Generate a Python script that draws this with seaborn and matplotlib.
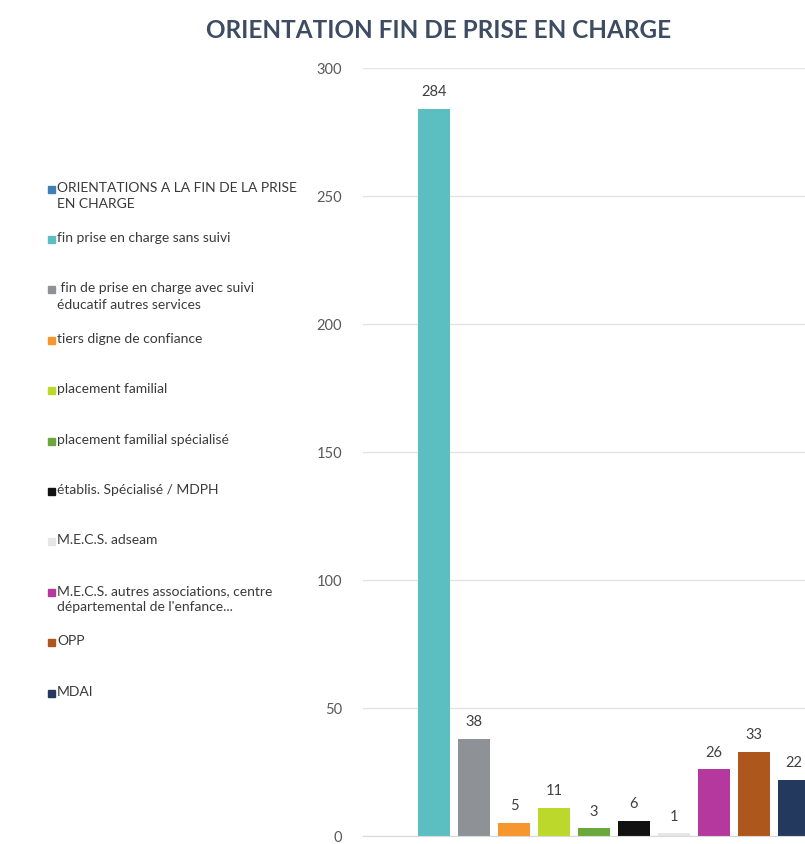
## bar chart: orientation at the end of care

import numpy as np
import pandas as pd
import seaborn as sns
import matplotlib.pyplot as plt
from matplotlib.patches import Rectangle

categories = ["ORIENTATIONS A LA FIN DE LA PRISE\nEN CHARGE",
              "fin prise en charge sans suivi",
              " fin de prise en charge avec suivi\néducatif autres services",
              "tiers digne de confiance",
              "placement familial",
              "placement familial spécialisé",
              "établis. Spécialisé / MDPH",
              "M.E.C.S. adseam",
              "M.E.C.S. autres associations, centre\ndépartemental de l'enfance...",
              "OPP",
              "MDAI"]
values = [0, 284, 38, 5, 11, 3, 6, 1, 26, 33, 22]
colors = ["#3f7fb5", "#5bbfc2", "#8e9196", "#f7962e", "#bcd82a", "#6aa83c",
          "#111111", "#e6e6ea", "#b5389e", "#ad571c", "#233a5e"]
yticks = [0, 50, 100, 150, 200, 250, 300]

df = pd.DataFrame({"cat": categories, "val": values})

sns.set_style("white")
plt.rcParams['font.family'] = ['Lato', 'DejaVu Sans']

fig = plt.figure(figsize=(8.05, 8.44), dpi=100)
W, H = 805, 844
# axes runs past the right edge of the figure, like the cropped original
ax = fig.add_axes([363 / W, 8 / H, (825 - 363) / W, 768 / H])

sns.barplot(data=df, x="cat", y="val", hue="cat", palette=colors, order=categories,
            hue_order=categories, width=0.8, linewidth=0, saturation=1,
            legend=False, ax=ax)

ax.set_xlim(-0.775, 10.775)
ax.set_ylim(0, 300)
ax.set_yticks(yticks)
ax.set_xticks([])
ax.set_xlabel("")
ax.set_ylabel("")
ax.yaxis.grid(True, color="#e3e3e3", linewidth=1)
ax.set_axisbelow(True)
for s in ["top", "right", "left"]:
    ax.spines[s].set_visible(False)
ax.spines["bottom"].set_color("#d9d9d9")
ax.tick_params(axis="y", length=0, pad=15, labelsize=10.5, labelcolor="#595959")

for cont, v in zip(ax.containers, values):
    ax.bar_label(cont, labels=[f"{v}" if v > 0 else ""], padding=7,
                 fontsize=10.5, color="#404040")

fig.text(439 / W, 1 - 30 / H, "ORIENTATION FIN DE PRISE EN CHARGE", ha="center",
         va="center", fontsize=17.5, fontweight="bold", color="#3d4b63")

# legend on the left, drawn by hand so markers sit on the first text line
for i, (lab, c) in enumerate(zip(categories, colors)):
    yc = 189 + i * 50.4
    fig.patches.append(Rectangle((48 / W, 1 - (yc + 3.5) / H), 7 / W, 7 / H,
                                 transform=fig.transFigure, color=c))
    fig.text(57 / W, 1 - (yc - 7.5) / H, lab, ha="left", va="top", fontsize=10,
             color="#3a3a3a", linespacing=1.45)

fig.savefig("out.png", dpi=100)
